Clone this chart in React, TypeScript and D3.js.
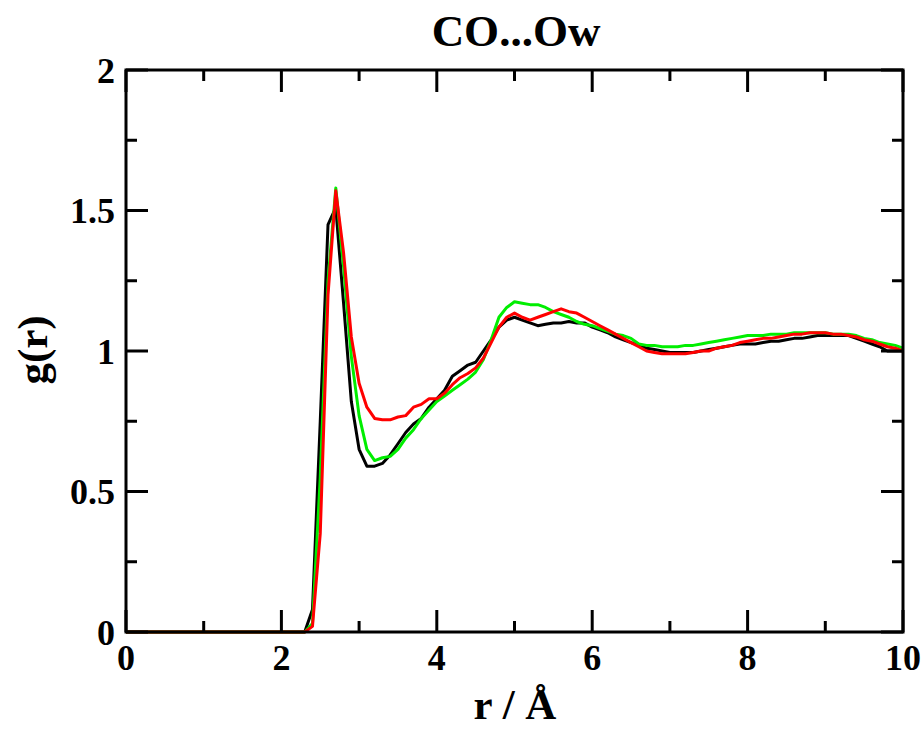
import React from "react";
import * as d3 from "d3";

const rValues: number[] = Array.from({ length: 101 }, (_, i) => +(i * 0.1).toFixed(1));

// g(r) from 2.3 Å onward (zero before)
const blackTail = [
  0, 0.08, 0.75, 1.45, 1.51, 1.17, 0.82, 0.65, 0.59, 0.59,
  0.60, 0.63, 0.67, 0.71, 0.74, 0.76, 0.80, 0.83, 0.86, 0.91,
  0.93, 0.95, 0.96, 1.0, 1.04, 1.085, 1.11, 1.12, 1.11, 1.10,
  1.09, 1.095, 1.10, 1.10, 1.105, 1.10, 1.10, 1.085, 1.075, 1.065,
  1.05, 1.04, 1.03, 1.02, 1.01, 1.005, 1.0, 0.995, 0.995, 0.995,
  0.995, 1.0, 1.005, 1.01, 1.015, 1.02, 1.025, 1.025, 1.025, 1.03,
  1.035, 1.035, 1.04, 1.045, 1.045, 1.05, 1.055, 1.055, 1.055, 1.055,
  1.055, 1.045, 1.035, 1.025, 1.015, 1.0, 1.0, 1.0,
];
const greenTail = [
  0, 0.03, 0.55, 1.25, 1.58, 1.30, 0.98, 0.77, 0.65, 0.61,
  0.62, 0.625, 0.65, 0.69, 0.72, 0.76, 0.79, 0.82, 0.84, 0.86,
  0.88, 0.90, 0.925, 0.97, 1.04, 1.12, 1.155, 1.175, 1.17, 1.165,
  1.165, 1.155, 1.14, 1.13, 1.12, 1.105, 1.095, 1.09, 1.08, 1.07,
  1.06, 1.055, 1.045, 1.025, 1.02, 1.02, 1.015, 1.015, 1.015, 1.02,
  1.02, 1.025, 1.03, 1.035, 1.04, 1.045, 1.05, 1.055, 1.055, 1.055,
  1.06, 1.06, 1.06, 1.065, 1.065, 1.065, 1.065, 1.065, 1.06, 1.06,
  1.06, 1.055, 1.045, 1.04, 1.03, 1.025, 1.02, 1.01,
];
const redTail = [
  0, 0.02, 0.35, 1.2, 1.57, 1.35, 1.05, 0.885, 0.80, 0.76,
  0.755, 0.755, 0.765, 0.77, 0.80, 0.81, 0.83, 0.83, 0.85, 0.88,
  0.905, 0.92, 0.94, 0.975, 1.03, 1.085, 1.12, 1.135, 1.12, 1.11,
  1.12, 1.13, 1.14, 1.15, 1.14, 1.135, 1.12, 1.105, 1.09, 1.075,
  1.06, 1.045, 1.03, 1.015, 1.0, 0.995, 0.99, 0.99, 0.99, 0.99,
  0.995, 1.0, 1.0, 1.01, 1.015, 1.02, 1.03, 1.035, 1.04, 1.045,
  1.045, 1.05, 1.055, 1.06, 1.06, 1.065, 1.065, 1.065, 1.06, 1.06,
  1.055, 1.05, 1.04, 1.035, 1.025, 1.015, 1.01, 1.0,
];

const zeros = Array(23).fill(0);
const seriesBlack = [...zeros, ...blackTail];
const seriesGreen = [...zeros, ...greenTail];
const seriesRed = [...zeros, ...redTail];

const seriesList = [
  { name: "black", color: "#000000", values: seriesBlack },
  { name: "green", color: "#00ee00", values: seriesGreen },
  { name: "red", color: "#ff0000", values: seriesRed },
];

const xMajorTicks = [0, 2, 4, 6, 8, 10];
const xMinorTicks = [1, 3, 5, 7, 9];
const yMajorTicks = [0, 0.5, 1, 1.5, 2];
const yMinorTicks = [0.25, 0.75, 1.25, 1.75];
const yTickLabels = ["0", "0.5", "1", "1.5", "2"];

const titleText = "CO...Ow";
const xLabel = "r / Å";
const yLabel = "g(r)";

export default function App() {
  const W = 924;
  const H = 730;
  const left = 126, right = 903, top = 70, bottom = 632;
  const x = d3.scaleLinear().domain([0, 10]).range([left, right]);
  const y = d3.scaleLinear().domain([0, 2]).range([bottom, top]);
  const line = d3
    .line<number>()
    .x((_, i) => x(rValues[i]))
    .y((d) => y(d));
  const font = "'Liberation Serif', 'Times New Roman', serif";
  const major = 22, minor = 11;
  return (
    <svg
      width={W}
      height={H}
      style={{ position: "absolute", left: 0, top: 0, background: "#fff" }}
      fontFamily={font}
      fontWeight="bold"
    >
      <rect x={0} y={0} width={W} height={H} fill="#fff" />
      {seriesList.map((s) => (
        <path
          key={s.name}
          d={line(s.values) || ""}
          fill="none"
          stroke={s.color}
          strokeWidth={3}
          strokeLinejoin="round"
        />
      ))}
      <rect x={left} y={top} width={right - left} height={bottom - top} fill="none" stroke="#000" strokeWidth={3} />
      {xMajorTicks.map((t) => (
        <g key={"xM" + t}>
          <line x1={x(t)} x2={x(t)} y1={bottom} y2={bottom - major} stroke="#000" strokeWidth={3} />
          <line x1={x(t)} x2={x(t)} y1={top} y2={top + major} stroke="#000" strokeWidth={3} />
          <text x={x(t)} y={670} textAnchor="middle" fontSize={36}>{t}</text>
        </g>
      ))}
      {xMinorTicks.map((t) => (
        <g key={"xm" + t}>
          <line x1={x(t)} x2={x(t)} y1={bottom} y2={bottom - minor} stroke="#000" strokeWidth={3} />
          <line x1={x(t)} x2={x(t)} y1={top} y2={top + minor} stroke="#000" strokeWidth={3} />
        </g>
      ))}
      {yMajorTicks.map((t, i) => (
        <g key={"yM" + t}>
          <line x1={left} x2={left + major} y1={y(t)} y2={y(t)} stroke="#000" strokeWidth={3} />
          <line x1={right} x2={right - major} y1={y(t)} y2={y(t)} stroke="#000" strokeWidth={3} />
          <text x={115} y={y(t) + 12.5} textAnchor="end" fontSize={36}>{yTickLabels[i]}</text>
        </g>
      ))}
      {yMinorTicks.map((t) => (
        <g key={"ym" + t}>
          <line x1={left} x2={left + minor} y1={y(t)} y2={y(t)} stroke="#000" strokeWidth={3} />
          <line x1={right} x2={right - minor} y1={y(t)} y2={y(t)} stroke="#000" strokeWidth={3} />
        </g>
      ))}
      <text x={516} y={46} textAnchor="middle" fontSize={45}>{titleText}</text>
      <text x={515} y={719} textAnchor="middle" fontSize={43}>{xLabel}</text>
      <text transform="translate(47,350) rotate(-90)" textAnchor="middle" fontSize={43}>{yLabel}</text>
    </svg>
  );
}
